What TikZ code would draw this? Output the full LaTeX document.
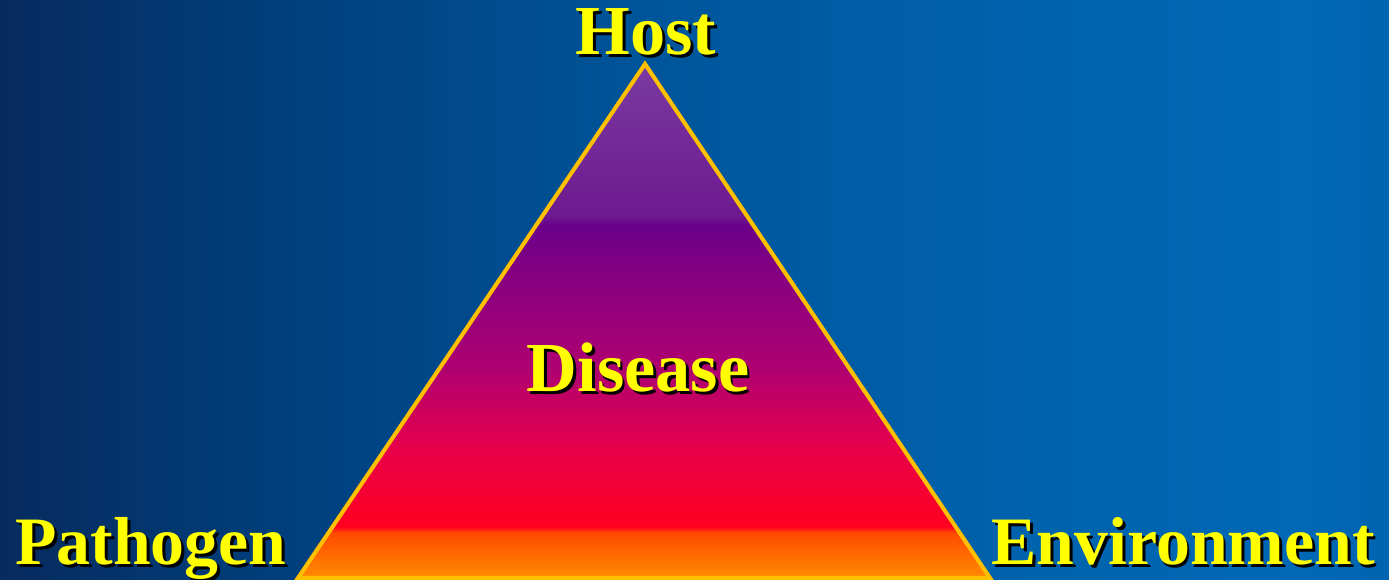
\documentclass[tikz,border=0pt]{standalone}
\usepackage{fontspec}
\setmainfont{Liberation Serif}
\usetikzlibrary{positioning}

\definecolor{bgA}{HTML}{072B5E}
\definecolor{bgB}{HTML}{00407E}
\definecolor{bgC}{HTML}{00559A}
\definecolor{bgD}{HTML}{0062AC}
\definecolor{bgE}{HTML}{0068B6}
\definecolor{bgF}{HTML}{0064B0}
\definecolor{triA}{HTML}{FF8C00}
\definecolor{triB}{HTML}{FF4A00}
\definecolor{triC}{HTML}{FF0020}
\definecolor{triD}{HTML}{E8004A}
\definecolor{triE}{HTML}{B00070}
\definecolor{triF}{HTML}{880080}
\definecolor{triG}{HTML}{6A008A}
\definecolor{triH}{HTML}{6E1A90}
\definecolor{triI}{HTML}{7A3AA0}
\definecolor{rim}{HTML}{FFC000}
\definecolor{txt}{HTML}{FFFF00}

% background: dark navy to blue
\pgfdeclarehorizontalshading{seabg}{100bp}{color(0bp)=(bgA); color(25bp)=(bgA);
  color(35.8bp)=(bgB); color(48.4bp)=(bgC); color(61bp)=(bgD);
  color(71.8bp)=(bgE); color(75bp)=(bgF); color(100bp)=(bgF)}
% triangle: orange at the base, purple at the apex
\pgfdeclareverticalshading{trifill}{100bp}{color(0bp)=(triA); color(25bp)=(triA);
  color(29.4bp)=(triB); color(30bp)=(triC); color(37.5bp)=(triD);
  color(45.2bp)=(triE); color(54bp)=(triF); color(59.3bp)=(triG);
  color(60.3bp)=(triH); color(75bp)=(triI); color(100bp)=(triI)}

\newcommand{\shadowed}[1]{\rlap{\kern1.6pt\raisebox{-1.6pt}{\color{black}#1}}#1}

\tikzset{
  label/.style={font=\fontsize{40}{42}\selectfont\bfseries, text=txt, inner sep=0pt, anchor=base},
  corner/.style={label, font=\fontsize{38.6}{40}\selectfont\bfseries},
}

\begin{document}
\begin{tikzpicture}[x=0.02cm, y=0.02cm]
   \useasboundingbox (0,0) rectangle (1389,580);
   \shade[shading=seabg] (0,0) rectangle (1389,580);

   % the triangle
   \coordinate (apex) at (645,516);
   \coordinate (bl) at (298,2);
   \coordinate (br) at (990,2);
   \shade[shading=trifill, draw=rim, line width=2.3pt, line join=miter]
      (apex) -- (br) -- (bl) -- cycle;

   % labels
   \node[label] (host) at (646,525) {\shadowed{Host}};
   \node[label] (disease) at (638,188) {\shadowed{Disease}};
   \node[corner, anchor=base west] (pathogen) at (15,15) {\shadowed{Pathogen}};
   \node[corner, anchor=base east] (environment) at (1375,15) {\shadowed{Environment}};
\end{tikzpicture}
\end{document}
